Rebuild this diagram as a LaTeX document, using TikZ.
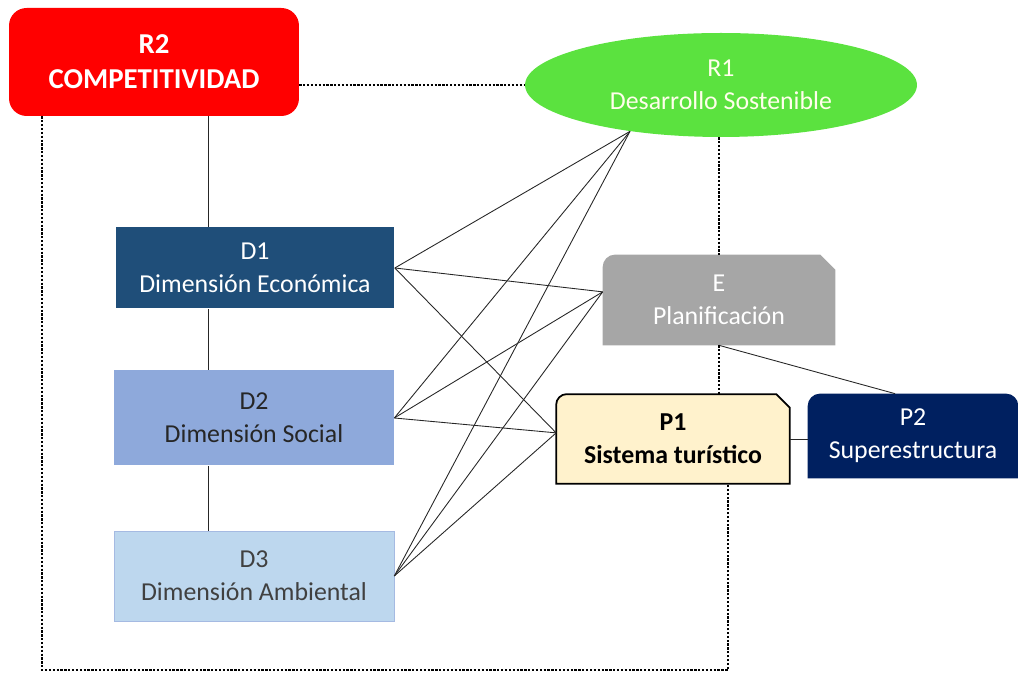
\documentclass[tikz,border=0pt]{standalone}
\usepackage{fontspec}
\setmainfont{Carlito}
\usetikzlibrary{shapes.geometric,backgrounds}
\definecolor{compred}{HTML}{FF0000}
\definecolor{sostgreen}{HTML}{5BE23F}
\definecolor{dimone}{HTML}{1F4E79}
\definecolor{dimtwo}{HTML}{8EA9DB}
\definecolor{dimthree}{HTML}{BDD7EE}
\definecolor{planfill}{HTML}{A6A6A6}
\definecolor{sysfill}{HTML}{FFF2CC}
\definecolor{superblue}{HTML}{002060}
\definecolor{textdark}{HTML}{262626}
\definecolor{textgray}{HTML}{404040}

\begin{document}
\begin{tikzpicture}[x=0.02cm,y=0.02cm,
  box/.style={rectangle, align=center, inner sep=0pt, font=\fontsize{14.7}{18.8}\selectfont},
  link/.style={draw=black!85, line width=0.5pt},
  dotlink/.style={draw=black, line width=1.4pt, dash pattern=on 1.3pt off 0.9pt}]
\useasboundingbox (0,0) rectangle (1018,675);

% Results
\node[box, fill=compred, rounded corners=10pt, minimum width=5.8cm, minimum height=2.16cm,
  text=white, font=\fontsize{16.4}{20}\selectfont\bfseries] (R2) at (154,613) {R2\\COMPETITIVIDAD};
\node[ellipse, fill=sostgreen, minimum width=7.84cm, minimum height=2.08cm, inner sep=0pt,
  align=center, text=white!92!yellow, font=\fontsize{14.7}{18.8}\selectfont] (R1) at (721,590) {R1\\Desarrollo Sostenible};

% Dimensions
\node[box, fill=dimone, text=white, minimum width=5.58cm, minimum height=1.62cm] (D1) at (255,407) {D1\\Dimensión Económica};
\node[box, fill=dimtwo, text=textdark, minimum width=5.6cm, minimum height=1.9cm] (D2) at (254,257) {D2\\Dimensión Social};
\node[box, fill=dimthree, draw=dimtwo!80, line width=0.4pt, text=textgray, minimum width=5.6cm, minimum height=1.8cm] (D3) at (254,99) {D3\\Dimensión Ambiental};

% Strategy and products
\node[box, text=white, minimum width=4.64cm, minimum height=1.8cm] (E) at (719,375) {E\\Planificación};
\node[box, font=\fontsize{14.7}{18.8}\selectfont\bfseries, minimum width=4.66cm, minimum height=1.78cm] (P1) at (673,236) {P1\\Sistema turístico};
\node[box, text=white, minimum width=4.2cm, minimum height=1.68cm] (P2) at (913,239) {P2\\Superestructura};

% Box shapes
\begin{scope}[on background layer]
\fill[planfill] (E.south west) -- ([yshift=-7pt]E.north west) arc[start angle=180, end angle=90, radius=7pt]
  -- ([xshift=-0.3cm]E.north east) -- ([yshift=-0.3cm]E.north east) -- (E.south east) -- cycle;
\filldraw[fill=sysfill, draw=black, line width=1pt] (P1.south west) -- ([yshift=-6pt]P1.north west)
  arc[start angle=180, end angle=90, radius=6pt] -- ([xshift=-0.27cm]P1.north east)
  -- ([yshift=-0.27cm]P1.north east) -- (P1.south east) -- cycle;
\fill[superblue] (P2.south west) -- ([yshift=-7pt]P2.north west) arc[start angle=180, end angle=90, radius=7pt]
  -- ([xshift=-7pt]P2.north east) arc[start angle=90, end angle=0, radius=7pt] -- (P2.south east) -- cycle;
\end{scope}

% Spine
\coordinate (spine) at (208,0);
\draw[link] (spine |- R2.south) -- (spine |- D1.north);
\draw[link] (spine |- D1.south) -- (spine |- D2.north);
\draw[link] (spine |- D2.south) -- (spine |- D3.north);

% Dimension links
\foreach \d in {D1,D2,D3} {
  \draw[link] (\d.east) -- (R1.207);
  \draw[link] (\d.east) -- (E.176);
  \draw[link] (\d.east) -- (P1.177);
}

% Other links
\draw[link] (E.south) -- (P2.113);
\draw[link] (P1.east) -- (P1.east -| P2.west);

% Dotted links
\coordinate (loopL) at (42,5);
\coordinate (loopR) at (728,5);
\draw[dotlink] (R2.east |- R1.west) -- (R1.west);
\draw[dotlink] (E.north |- R1.south) -- (E.north);
\draw[dotlink] (E.south) -- (E.south |- P1.north);
\draw[dotlink] (R2.south -| loopL) -- (loopL) -- (loopR) -- (loopR |- P1.south);
\end{tikzpicture}
\end{document}
